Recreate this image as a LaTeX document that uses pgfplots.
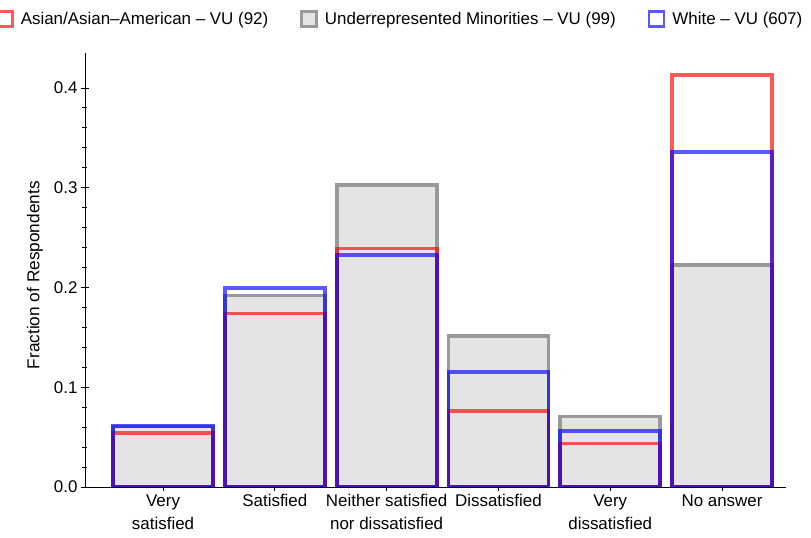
\documentclass[border=0pt]{standalone}
\usepackage{fontspec}
\setmainfont{Liberation Sans}
\usepackage{pgfplots}
\pgfplotsset{compat=1.18}
\definecolor{grayedge}{rgb}{0.6,0.6,0.6}
\definecolor{grayfill}{rgb}{0.894,0.894,0.894}
\pgfplotsset{
  mybar/.style={ybar, bar shift=0pt, bar width=0.895, line width=3.8bp},
  legsq/.style={line width=2.6bp, legend image code/.code={\draw[##1] (0bp,-7.5bp) rectangle (15bp,7.5bp);}},
}
\begin{document}
\begin{tikzpicture}
\begin{axis}[
  scale only axis, width=701bp, height=434bp,
  xmin=-0.698, xmax=5.572, ymin=0, ymax=0.435,
  axis x line=bottom, axis y line=left,
  axis line style={-, line width=0.8bp},
  every tick/.style={black, line width=0.8bp},
  major tick length=8bp, minor tick length=5bp,
  xtick={0,1,2,3,4,5},
  xticklabels={Very\\satisfied, Satisfied, Neither satisfied\\nor dissatisfied, Dissatisfied, Very\\dissatisfied, No answer},
  xticklabel style={align=center, font=\fontsize{17}{23}\selectfont},
  ytick={0,0.1,0.2,0.3,0.4}, minor y tick num=4,
  yticklabel style={/pgf/number format/.cd, fixed, fixed zerofill, precision=1, assume math mode=true, /tikz/.cd, font=\fontsize{17}{23}\selectfont},
  ylabel={Fraction of Respondents},
  every axis y label/.style={at={(axis description cs:-0.0713,0.488)}, rotate=90, anchor=center, font=\fontsize{17.3}{23}\selectfont},
  legend columns=3,
  legend style={at={(axis description cs:-0.127,1.078)}, anchor=west, draw=none, fill=none, inner sep=0pt,
    font=\fontsize{17}{23}\selectfont,
    /tikz/every even column/.append style={column sep=29bp},
    /tikz/every odd column/.append style={column sep=4bp},
    nodes={inner sep=3bp}},
]
\addplot[mybar, draw=grayedge, fill=grayfill, forget plot] coordinates {(0,0.0606) (1,0.1919) (2,0.3030) (3,0.1515) (4,0.0707) (5,0.2222)};
\addplot[mybar, draw=red, draw opacity=0.65, fill=none, forget plot] coordinates {(0,0.0543) (1,0.1739) (2,0.2391) (3,0.0761) (4,0.0435) (5,0.4130)};
\addplot[mybar, draw=blue, draw opacity=0.65, fill=none, forget plot] coordinates {(0,0.0610) (1,0.1993) (2,0.2323) (3,0.1153) (4,0.0560) (5,0.3361)};
\addlegendimage{legsq, draw=red, draw opacity=0.65, fill=white}
\addlegendentry{Asian/Asian–American – VU (92)}
\addlegendimage{legsq, draw=grayedge, fill=grayfill}
\addlegendentry{Underrepresented Minorities – VU (99)}
\addlegendimage{legsq, draw=blue, draw opacity=0.65, fill=white}
\addlegendentry{White – VU (607)}
\end{axis}
\pgfresetboundingbox
\path[use as bounding box] (-85bp,-51bp) rectangle (726bp,487bp);
\end{tikzpicture}
\end{document}
